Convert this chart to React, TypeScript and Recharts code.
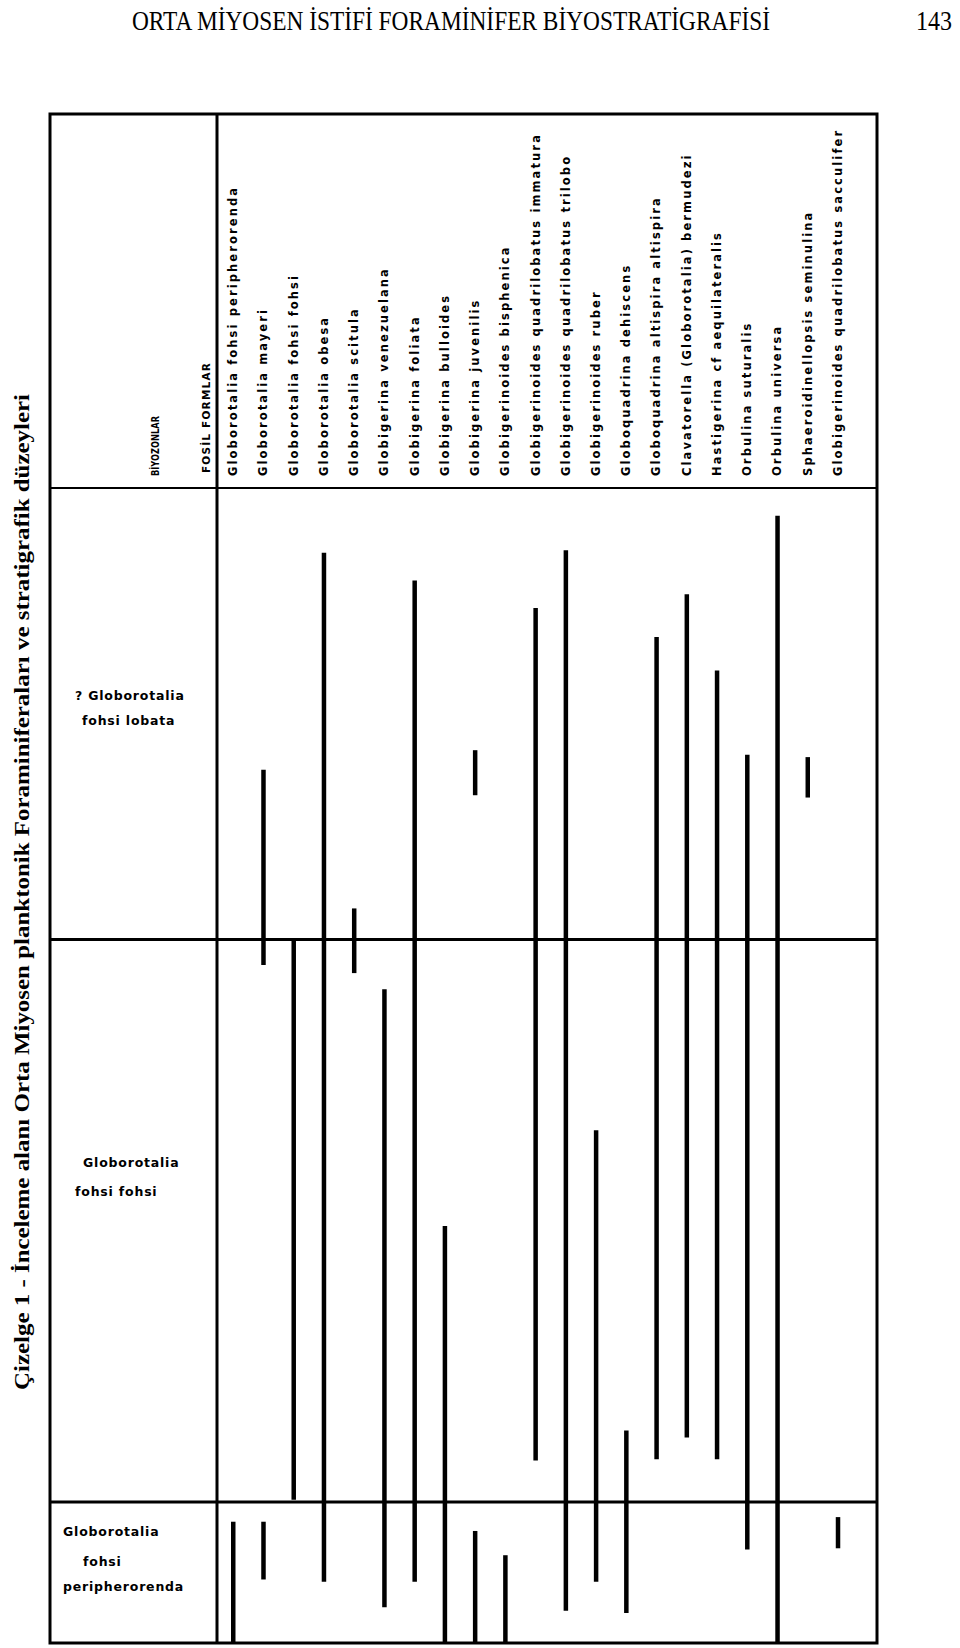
import React from 'react'
import { ComposedChart, Bar, XAxis, YAxis, ReferenceLine } from 'recharts'

// species (left to right, as in the header)
const species = [
  'Globorotalia fohsi peripherorenda',
  'Globorotalia mayeri',
  'Globorotalia fohsi fohsi',
  'Globorotalia obesa',
  'Globorotalia scitula',
  'Globigerina venezuelana',
  'Globigerina foliata',
  'Globigerina bulloides',
  'Globigerina juvenilis',
  'Globigerinoides bisphenica',
  'Globigerinoides quadrilobatus immatura',
  'Globigerinoides quadrilobatus trilobo',
  'Globigerinoides ruber',
  'Globoquadrina dehiscens',
  'Globoquadrina altispira altispira',
  'Clavatorella (Globorotalia) bermudezi',
  'Hastigerina cf aequilateralis',
  'Orbulina suturalis',
  'Orbulina universa',
  'Sphaeroidinellopsis seminulina',
  'Globigerinoides quadrilobatus sacculifer',
]

// relative stratigraphic level, 0 = base of section, 100 = top
const mainRange: [number, number][] = [
  [0, 10.5],
  [58.7, 75.6],
  [12.4, 60.9],
  [5.3, 94.4],
  [58.0, 63.6],
  [3.1, 56.6],
  [5.3, 92.0],
  [0, 36.1],
  [73.4, 77.3],
  [0, 7.6],
  [15.8, 89.6],
  [2.8, 94.6],
  [5.3, 44.4],
  [2.6, 18.4],
  [15.9, 87.1],
  [17.8, 90.8],
  [15.9, 84.2],
  [8.1, 76.9],
  [0, 97.6],
  [73.2, 76.7],
  [8.2, 10.9],
]

// second occurrence interval (only a few species)
const lowerRange: ([number, number] | null)[] = [
  null, [5.5, 10.5], null, null, null, null, null, null, [0, 9.7], null,
  null, null, null, null, null, null, null, null, null, null, null,
]

// zone boundaries
const zoneBounds = [60.9, 12.2]
const zoneNames = [
  ['? Globorotalia', 'fohsi lobata'],
  ['Globorotalia', 'fohsi fohsi'],
  ['Globorotalia', 'fohsi', 'peripherorenda'],
]

const rows = species.map((name, i) => ({ name, first: mainRange[i], second: lowerRange[i] }))

const sans = 'DejaVu Sans, sans-serif'

function SpeciesTick({ x, y, payload }: any) {
  return (
    <text
      x={x}
      y={y}
      dy="0.35em"
      transform={`rotate(-90 ${x} ${y})`}
      textAnchor="start"
      fontFamily={sans}
      fontWeight="bold"
      fontSize={11.5}
      letterSpacing={2.1}
      fill="#000"
    >
      {payload.value}
    </text>
  )
}

export default function App() {
  return (
    <div style={{ position: 'absolute', left: 0, top: 0, width: 960, height: 1648, background: '#fff' }}>
      <ComposedChart
        width={960}
        height={1648}
        data={rows}
        margin={{ top: 487, right: 83, bottom: 5, left: 51 }}
        barGap={-4.5}
      >
        <XAxis
          dataKey="name"
          orientation="top"
          axisLine={false}
          tickLine={false}
          tickSize={0}
          tickMargin={12}
          height={1}
          interval={0}
          padding={{ left: 167, right: 24 }}
          tick={<SpeciesTick />}
        />
        <YAxis hide type="number" domain={[0, 100]} />
        {zoneBounds.map(v => (
          <ReferenceLine key={v} y={v} stroke="#000" strokeWidth={3} />
        ))}
        <Bar dataKey="first" fill="#000" barSize={4.5} isAnimationActive={false} />
        <Bar dataKey="second" fill="#000" barSize={4.5} isAnimationActive={false} />
      </ComposedChart>

      <svg width={960} height={1648} style={{ position: 'absolute', left: 0, top: 0, pointerEvents: 'none' }}>
        {/* page heading */}
        <text x={132} y={30} fontFamily="Liberation Serif, serif" fontSize={28} textLength={638} lengthAdjust="spacingAndGlyphs">
          ORTA MİYOSEN İSTİFİ FORAMİNİFER BİYOSTRATİGRAFİSİ
        </text>
        <text x={916} y={30} fontFamily="Liberation Serif, serif" fontSize={28} textLength={36} lengthAdjust="spacingAndGlyphs">
          143
        </text>

        {/* caption, rotated */}
        <text
          x={22}
          y={1390}
          dy="0.35em"
          transform="rotate(-90 22 1390)"
          fontFamily="Liberation Serif, serif"
          fontWeight="bold"
          fontSize={20}
          textLength={996}
          lengthAdjust="spacingAndGlyphs"
        >
          Çizelge 1 - İnceleme alanı Orta Miyosen planktonik Foraminiferaları ve stratigrafik düzeyleri
        </text>

        {/* frame */}
        <g stroke="#000" fill="none">
          <rect x={50} y={114} width={827} height={1529} strokeWidth={3} />
          <line x1={217} y1={114} x2={217} y2={1643} strokeWidth={3} />
          <line x1={50} y1={488} x2={877} y2={488} strokeWidth={2} />
        </g>

        {/* header labels */}
        <text x={155} y={476} dy="0.35em" transform="rotate(-90 155 476)" fontFamily={sans} fontWeight="bold" fontSize={10} textLength={60} lengthAdjust="spacingAndGlyphs">
          BİYOZONLAR
        </text>
        <text x={206} y={473} dy="0.35em" transform="rotate(-90 206 473)" fontFamily={sans} fontWeight="bold" fontSize={10.5} letterSpacing={1.2}>
          FOSİL FORMLAR
        </text>

        {/* zone names */}
        <g fontFamily={sans} fontWeight="bold" fontSize={12.5} letterSpacing={0.8}>
          <text x={75} y={700}>{zoneNames[0][0]}</text>
          <text x={82} y={725}>{zoneNames[0][1]}</text>
          <text x={83} y={1167}>{zoneNames[1][0]}</text>
          <text x={75} y={1196}>{zoneNames[1][1]}</text>
          <text x={63} y={1536}>{zoneNames[2][0]}</text>
          <text x={83} y={1566}>{zoneNames[2][1]}</text>
          <text x={63} y={1591}>{zoneNames[2][2]}</text>
        </g>
      </svg>
    </div>
  )
}
